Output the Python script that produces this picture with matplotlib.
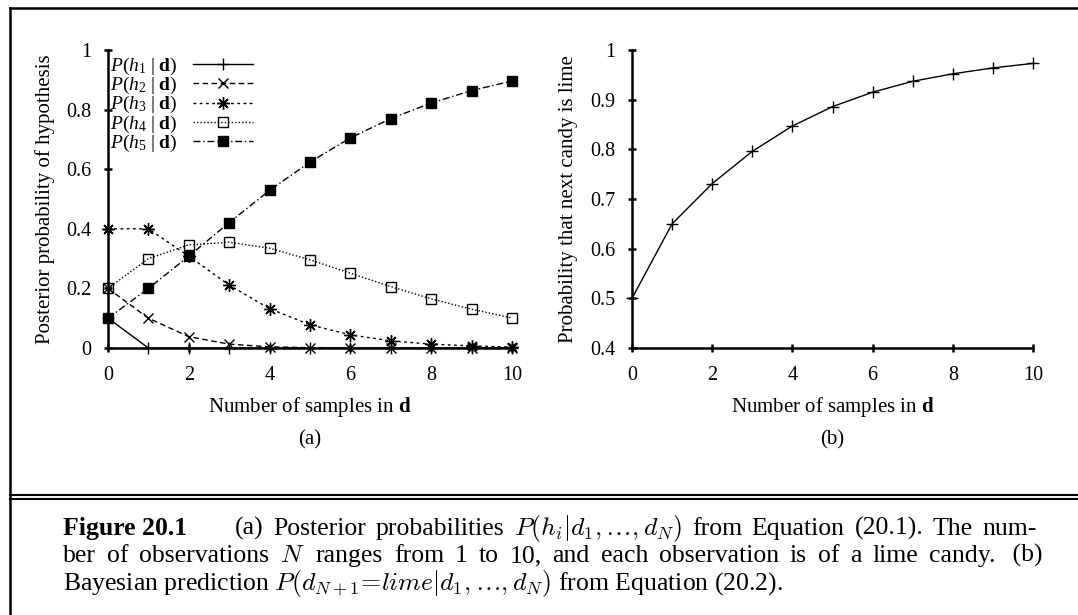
import matplotlib
matplotlib.use('Agg')
import matplotlib.pyplot as plt
from matplotlib.lines import Line2D

plt.rcParams['font.family'] = ['Liberation Serif', 'DejaVu Serif']
plt.rcParams['mathtext.fontset'] = 'custom'
plt.rcParams['mathtext.rm'] = 'Liberation Serif'
plt.rcParams['mathtext.it'] = 'Liberation Serif:italic'
plt.rcParams['mathtext.bf'] = 'Liberation Serif:bold'

W, H = 1078, 615

# data
samples = [0, 1, 2, 3, 4, 5, 6, 7, 8, 9, 10]
post_h1 = [0.1, 0, 0, 0, 0, 0, 0, 0, 0, 0, 0]
post_h2 = [0.2, 0.1, 0.038, 0.013, 0.004, 0.001, 0, 0, 0, 0, 0]
post_h3 = [0.4, 0.4, 0.308, 0.211, 0.132, 0.078, 0.044, 0.024, 0.013, 0.007, 0.003]
post_h4 = [0.2, 0.3, 0.346, 0.355, 0.335, 0.296, 0.251, 0.206, 0.165, 0.130, 0.101]
post_h5 = [0.1, 0.2, 0.308, 0.421, 0.529, 0.624, 0.705, 0.770, 0.822, 0.864, 0.896]
p_lime = [0.5, 0.65, 0.731, 0.796, 0.847, 0.886, 0.915, 0.937, 0.952, 0.964, 0.973]

legend_labels = [r'$P(h_%d\ |\ \mathbf{d})$' % i for i in range(1, 6)]
ticks_a = [0, 0.2, 0.4, 0.6, 0.8, 1]
tick_labels_a = ['0', '0.2', '0.4', '0.6', '0.8', '1']
ticks_b = [0.4, 0.5, 0.6, 0.7, 0.8, 0.9, 1]
tick_labels_b = ['0.4', '0.5', '0.6', '0.7', '0.8', '0.9', '1']
x_ticks = [0, 2, 4, 6, 8, 10]


def fx(x):
    return x / W


def fy(y):
    return 1 - y / H


def box(x0, y0, x1, y1):
    return [fx(x0), fy(y1), fx(x1) - fx(x0), fy(y0) - fy(y1)]


fig = plt.figure(figsize=(W / 100, H / 100), dpi=100)


def style_axes(ax):
    for s in ['top', 'right']:
        ax.spines[s].set_visible(False)
    for s in ['left', 'bottom']:
        ax.spines[s].set_linewidth(1.8)
    ax.tick_params(direction='inout', length=6, width=1.8, labelsize=14.5)
    ax.tick_params(axis='x', pad=10)
    ax.tick_params(axis='y', pad=9)
    ax.set_xlim(0, 10)
    ax.set_xticks(x_ticks)
    ax.set_xticklabels([str(t) for t in x_ticks])
    ax.set_xlabel(r'Number of samples in $\mathbf{d}$', fontsize=15)
    ax.xaxis.set_label_coords(0.5, -(407 - 348) / 298)
    ax.xaxis.label.set_va('center')
    ax.yaxis.label.set_va('center')


kw = dict(color='black', lw=1.0, clip_on=False, zorder=3)

# panel (a)
ax1 = fig.add_axes(box(108, 50, 512, 348))
style_axes(ax1)
ax1.set_ylim(0, 1)
ax1.set_yticks(ticks_a)
ax1.set_yticklabels(tick_labels_a)

ax1.plot(samples, post_h1, ls='-', marker='+', ms=9, mew=1.0, label=legend_labels[0], **kw)
ax1.plot(samples, post_h2, ls=(0, (4, 2.5)), marker='x', ms=7, mew=1.0, label=legend_labels[1], **kw)
ax1.plot(samples, post_h3, ls=(0, (2, 2.5)), marker=(8, 2, 0), ms=9, mew=1.0, label=legend_labels[2], **kw)
ax1.plot(samples, post_h4, ls=(0, (1, 1.5)), marker='s', ms=7, mew=1.0, mfc='none', label=legend_labels[3], **kw)
ax1.plot(samples, post_h5, ls=(0, (5, 2, 1, 2)), marker='s', ms=7, mew=1.0, label=legend_labels[4], **kw)

ax1.legend(loc='upper left', bbox_to_anchor=(0.005, 0.98), frameon=False, markerfirst=False,
           numpoints=1, handlelength=3.1, handletextpad=0.8, labelspacing=-0.1,
           borderpad=0, borderaxespad=0, fontsize=14)

ax1.set_ylabel('Posterior probability of hypothesis', fontsize=15)
ax1.yaxis.set_label_coords((45 - 108) / 404, 0.5)

# panel (b)
ax2 = fig.add_axes(box(632, 50, 1033, 348))
style_axes(ax2)
ax2.set_ylim(0.4, 1)
ax2.set_yticks(ticks_b)
ax2.set_yticklabels(tick_labels_b)
ax2.plot(samples, p_lime, ls='-', marker='+', ms=9, mew=1.0, **kw)
ax2.set_ylabel('Probability that next candy is lime', fontsize=15)
ax2.yaxis.set_label_coords((568 - 632) / 401, 0.5)

fig.text(fx(310), fy(440), '(a)', fontsize=15, ha='center', va='center')
fig.text(fx(832), fy(440), '(b)', fontsize=15, ha='center', va='center')

# frame lines
frame = [
    ([10, W], [8, 8], 1.8),
    ([10, 10], [8, H], 1.8),
    ([10, W], [494.5, 494.5], 1.5),
    ([10, W], [498.5, 498.5], 1.5),
]
for xs, ys, lw in frame:
    fig.add_artist(Line2D([fx(v) for v in xs], [fy(v) for v in ys], color='black',
                          lw=lw, transform=fig.transFigure))

# caption, justified word by word
cap_fs = 18.5
renderer = fig.canvas.get_renderer()


def justified(words, x0, x1, y):
    texts = [fig.text(0, 0, w, fontsize=cap_fs, va='baseline', ha='left',
                      math_fontfamily='cm') for w in words]
    widths = [t.get_window_extent(renderer).width for t in texts]
    gap = (x1 - x0 - sum(widths)) / (len(words) - 1)
    x = x0
    for t, w in zip(texts, widths):
        t.set_position((fx(x), fy(y)))
        x += w + gap


fig.text(fx(63), fy(535), 'Figure 20.1', fontsize=cap_fs, fontweight='bold', va='baseline')
line1 = ['(a)', 'Posterior', 'probabilities', r'$P(h_i|d_1,\ldots,d_N)$', 'from',
         'Equation', '(20.1).', 'The', 'num-']
line2 = ['ber', 'of', 'observations', r'$N$', 'ranges', 'from', '1', 'to', '10,', 'and',
         'each', 'observation', 'is', 'of', 'a', 'lime', 'candy.', ' (b)']
justified(line1, 235, 1037, 535)
justified(line2, 63, 1043, 562)
fig.text(fx(63), fy(590),
         r'Bayesian prediction $P(d_{N+1}\!=\!lime|d_1,\ldots,d_N)$ from Equation (20.2).',
         fontsize=cap_fs, va='baseline', math_fontfamily='cm')

fig.savefig('out.png', dpi=100)
